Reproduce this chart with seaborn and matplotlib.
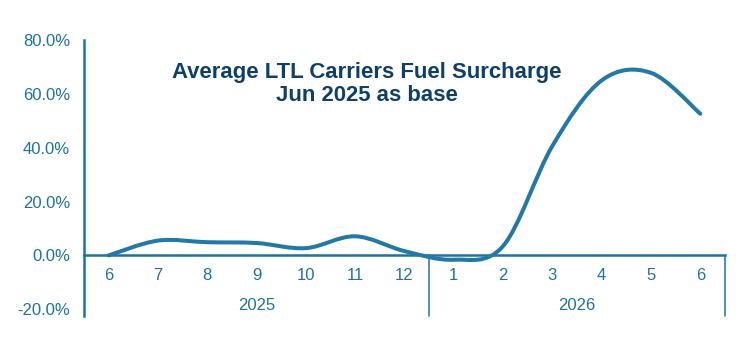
import numpy as np
import matplotlib
matplotlib.use("Agg")
import matplotlib.pyplot as plt
from matplotlib.path import Path
from matplotlib.patches import PathPatch
import seaborn as sns

# --- data ---
months = ["6", "7", "8", "9", "10", "11", "12", "1", "2", "3", "4", "5", "6"]
years = ["2025", "2026"]
year_span = [7, 6]  # number of months under each year
surcharge = [0.0, 5.5, 4.9, 4.6, 2.7, 7.1, 1.6, -1.6, 3.5, 40.7, 65.0, 67.8, 52.6]
yticks = [-20, 0, 20, 40, 60, 80]

AXIS_BLUE = "#1b72a3"
LINE_BLUE = "#2378a8"
TITLE_NAVY = "#0d3f68"

sns.set_style("white")
plt.rcParams["font.family"] = ["Liberation Sans", "DejaVu Sans"]

fig = plt.figure(figsize=(7.4, 3.44), dpi=100)
ax = fig.add_axes([84 / 740, 28 / 344, 641 / 740, 276 / 344])

x = np.arange(len(surcharge))
y = np.array(surcharge)

# smoothed line (Excel-style bezier through every point)
verts = [(x[0], y[0])]
codes = [Path.MOVETO]
n = len(y)
for i in range(n - 1):
    p0 = np.array([x[max(i - 1, 0)], y[max(i - 1, 0)]])
    p1 = np.array([x[i], y[i]])
    p2 = np.array([x[i + 1], y[i + 1]])
    p3 = np.array([x[min(i + 2, n - 1)], y[min(i + 2, n - 1)]])
    c1 = p1 + (p2 - p0) / 6
    c2 = p2 - (p3 - p1) / 6
    verts += [tuple(c1), tuple(c2), tuple(p2)]
    codes += [Path.CURVE4] * 3
ax.add_patch(PathPatch(Path(verts, codes), facecolor="none", edgecolor=LINE_BLUE,
                       lw=2.9, capstyle="round", joinstyle="round", zorder=3))

ax.set_xlim(-0.5, len(months) - 0.5)
ax.set_ylim(-22.5, 80)

# axes styling
for s in ["top", "right"]:
    ax.spines[s].set_visible(False)
ax.spines["left"].set_color(AXIS_BLUE)
ax.spines["left"].set_linewidth(1.8)
ax.spines["bottom"].set_position(("data", 0))
ax.spines["bottom"].set_color(AXIS_BLUE)
ax.spines["bottom"].set_linewidth(1.8)

ax.set_yticks(yticks)
ax.set_yticklabels([f"{v:.1f}%" for v in yticks])
ax.tick_params(axis="y", direction="out", length=4, width=1.4, color=AXIS_BLUE,
               labelcolor=AXIS_BLUE, labelsize=12, pad=6)
ax.set_xticks(x)
ax.set_xticklabels(months)
ax.tick_params(axis="x", length=0, labelcolor=AXIS_BLUE, labelsize=12, pad=9)

# year group separators and labels
edge = -0.5
for yr, span in zip(years, year_span):
    ax.text(edge + span / 2, -18.5, yr, ha="center", va="center",
            color=AXIS_BLUE, fontsize=12)
    edge += span
    ax.plot([edge, edge], [0, -22.5], color=AXIS_BLUE, lw=1.1, clip_on=False)

ax.grid(False)

fig.text(367 / 740, 1 - 84 / 344, "Average LTL Carriers Fuel Surcharge\nJun 2025 as base",
         ha="center", va="center", fontsize=15.9, fontweight="bold",
         color=TITLE_NAVY, linespacing=1.1)

fig.savefig("out.png", dpi=100)
